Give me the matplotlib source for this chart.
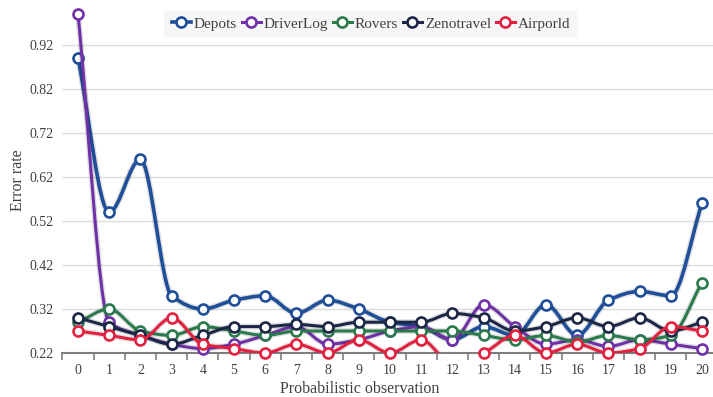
import matplotlib
matplotlib.use("Agg")
import matplotlib.pyplot as plt
import matplotlib.patheffects as pe
from matplotlib.path import Path
from matplotlib.patches import PathPatch
from matplotlib.lines import Line2D
import numpy as np

plt.rcParams['font.family'] = ['Liberation Serif', 'DejaVu Serif']

obs = list(range(21))

depots     = [0.89, 0.54, 0.66, 0.35, 0.32, 0.34, 0.35, 0.31, 0.34, 0.32, 0.29,
              0.28, 0.25, 0.28, 0.26, 0.33, 0.26, 0.34, 0.36, 0.35, 0.56]
driverlog  = [0.99, 0.29, 0.26, 0.24, 0.23, 0.24, 0.26, 0.28, 0.24, 0.25, 0.27,
              0.28, 0.25, 0.33, 0.28, 0.24, 0.25, 0.235, 0.25, 0.24, 0.23]
rovers     = [0.29, 0.32, 0.27, 0.26, 0.28, 0.27, 0.26, 0.27, 0.27, 0.27, 0.27,
              0.27, 0.27, 0.26, 0.25, 0.26, 0.245, 0.26, 0.25, 0.26, 0.38]
zenotravel = [0.30, 0.28, 0.26, 0.24, 0.26, 0.28, 0.28, 0.285, 0.28, 0.29, 0.29,
              0.29, 0.31, 0.30, 0.27, 0.28, 0.30, 0.28, 0.30, 0.27, 0.29]
airporld   = [0.27, 0.26, 0.25, 0.30, 0.24, 0.23, 0.22, 0.24, 0.22, 0.25, 0.22,
              0.25, 0.195, 0.22, 0.26, 0.22, 0.24, 0.22, 0.23, 0.28, 0.27]

series = [
    ("Depots", depots, "#1f4f99", 2.6),
    ("DriverLog", driverlog, "#7030a8", 2.2),
    ("Rovers", rovers, "#2a7a4c", 2.2),
    ("Zenotravel", zenotravel, "#1c2747", 2.2),
    ("Airporld", airporld, "#e3203f", 2.2),
]


def smooth_path(x, y):
    # monotone cubic (Fritsch-Carlson tangents) written as Bezier segments
    x = np.asarray(x, float)
    y = np.asarray(y, float)
    n = len(x)
    h = np.diff(x)
    d = np.diff(y) / h
    m = np.zeros(n)
    m[0], m[-1] = d[0], d[-1]
    for k in range(1, n - 1):
        if d[k - 1] * d[k] > 0:
            m[k] = 2.0 / (1.0 / d[k - 1] + 1.0 / d[k])
    verts = [(x[0], y[0])]
    codes = [Path.MOVETO]
    for i in range(n - 1):
        verts += [(x[i] + h[i] / 3, y[i] + m[i] * h[i] / 3),
                  (x[i + 1] - h[i] / 3, y[i + 1] - m[i + 1] * h[i] / 3),
                  (x[i + 1], y[i + 1])]
        codes += [Path.CURVE4] * 3
    return Path(verts, codes)


fig = plt.figure(figsize=(7.13, 3.97), dpi=100)
ax = fig.add_axes([62.4 / 713, 44 / 397, 655.2 / 713, 352 / 397])

handles = []
for k, (name, vals, col, lw) in enumerate(series):
    shadow = [pe.Stroke(linewidth=lw + 2, foreground=(0, 0, 0, 0.12)), pe.Normal()]
    patch = PathPatch(smooth_path(obs, vals), fill=False, edgecolor=col,
                      linewidth=lw, zorder=3 + k, path_effects=shadow,
                      capstyle='round', joinstyle='round')
    ax.add_patch(patch)
    inside = [(xi, v) for xi, v in zip(obs, vals) if v >= 0.22]
    ax.plot([p[0] for p in inside], [p[1] for p in inside], linestyle='none',
            marker='o', markersize=7.2, markerfacecolor='white',
            markeredgecolor=col, markeredgewidth=1.9, zorder=3.5 + k,
            clip_on=False)
    handles.append(Line2D([], [], color=col, linewidth=lw, marker='o',
                          markersize=7.2, markerfacecolor='white',
                          markeredgecolor=col, markeredgewidth=1.9,
                          label=name))

ax.set_xlim(-0.5, 20.5)
ax.set_ylim(0.22, 1.02)
ax.set_yticks([0.22, 0.32, 0.42, 0.52, 0.62, 0.72, 0.82, 0.92])
ax.set_yticklabels(["0.22", "0.32", "0.42", "0.52", "0.62", "0.72", "0.82", "0.92"])
ax.set_xticks(obs)
ax.set_xticks(np.arange(-0.5, 21, 1), minor=True)
ax.tick_params(axis='x', which='major', length=0, pad=8, labelsize=10, colors='#404040')
ax.tick_params(axis='x', which='minor', length=5, width=1.2, color='#7f7f7f', direction='out')
ax.tick_params(axis='y', length=0, pad=6, labelsize=10, colors='#404040')

ax.grid(axis='y', color='#dcdcdc', linewidth=1)
ax.set_axisbelow(True)
for s in ['top', 'right', 'left']:
    ax.spines[s].set_visible(False)
ax.spines['bottom'].set_color('#7f7f7f')
ax.spines['bottom'].set_linewidth(1.5)

fig.text(360 / 713, 1 - 389 / 397, "Probabilistic observation", fontsize=11.5,
         color='#404040', ha='center', va='center')
fig.text(18 / 713, 1 - 180 / 397, "Error rate", rotation=90, fontsize=11.5,
         color='#404040', ha='center', va='center')

leg = fig.legend(handles=handles, loc='center', bbox_to_anchor=(371 / 713, 1 - 24 / 397),
                 ncol=5, fontsize=11, frameon=True, handlelength=1.25,
                 handletextpad=0.2, columnspacing=0.3, borderpad=0.5,
                 fancybox=False)
leg.get_frame().set_facecolor('#f4f4f4')
leg.get_frame().set_edgecolor('none')
for t in leg.get_texts():
    t.set_color('#404040')

fig.savefig("out.png", dpi=100)
